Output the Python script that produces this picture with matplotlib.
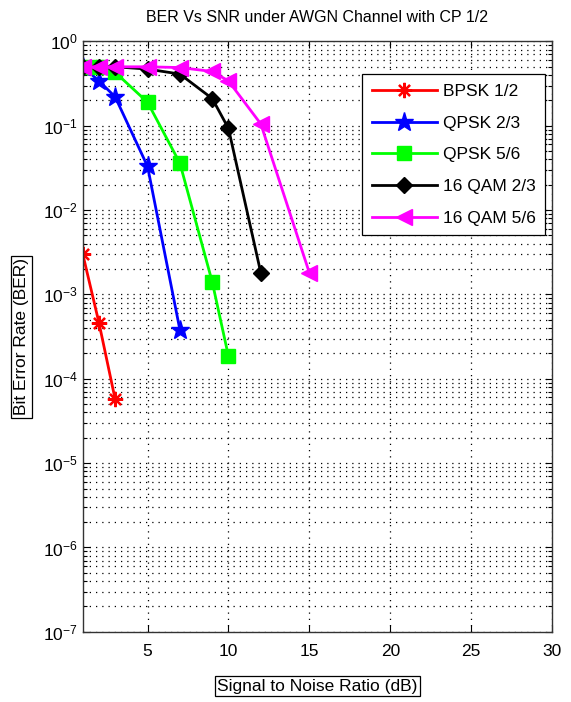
import matplotlib
matplotlib.use("Agg")
import matplotlib.pyplot as plt
from matplotlib.ticker import LogLocator, FixedLocator, NullFormatter

plt.rcParams["font.family"] = ["Liberation Sans", "DejaVu Sans"]
plt.rcParams["mathtext.default"] = "regular"

# series
bpsk_12_snr = [1, 2, 3]
bpsk_12_ber = [3.0e-3, 4.6e-4, 5.7e-5]

qpsk_23_snr = [1, 2, 3, 5, 7]
qpsk_23_ber = [0.5, 0.34, 0.22, 0.033, 3.8e-4]

qpsk_56_snr = [1, 2, 3, 5, 7, 9, 10]
qpsk_56_ber = [0.5, 0.5, 0.43, 0.19, 0.036, 1.4e-3, 1.85e-4]

qam16_23_snr = [1, 2, 3, 5, 7, 9, 10, 12]
qam16_23_ber = [0.5, 0.5, 0.5, 0.47, 0.41, 0.21, 0.093, 1.8e-3]

qam16_56_snr = [1, 2, 3, 5, 7, 9, 10, 12, 15]
qam16_56_ber = [0.5, 0.5, 0.5, 0.5, 0.49, 0.44, 0.34, 0.105, 1.8e-3]

x_ticks = [5, 10, 15, 20, 25, 30]
y_ticks = [1e-7, 1e-6, 1e-5, 1e-4, 1e-3, 1e-2, 1e-1, 1e0]

SERIES = [
    (bpsk_12_snr, bpsk_12_ber, "BPSK 1/2", "#ff0000", (8, 2, 0), 11),
    (qpsk_23_snr, qpsk_23_ber, "QPSK 2/3", "#0000ff", "*", 14),
    (qpsk_56_snr, qpsk_56_ber, "QPSK 5/6", "#00ff00", "s", 10),
    (qam16_23_snr, qam16_23_ber, "16 QAM 2/3", "#000000", "D", 8.5),
    (qam16_56_snr, qam16_56_ber, "16 QAM 5/6", "#ff00ff", "<", 12),
]

fig = plt.figure(figsize=(5.71, 7.02), dpi=100)
ax = fig.add_axes([0.145, 0.1, 0.822, 0.841])

for snr, ber, label, color, marker, ms in SERIES:
    ew = 1.6 if label == "BPSK 1/2" else 1
    ax.semilogy(snr, ber, color=color, marker=marker, markersize=ms,
                lw=2, label=label, markeredgecolor=color,
                markerfacecolor=color, markeredgewidth=ew)

ax.set_xlim(1, 30)
ax.set_ylim(y_ticks[0], y_ticks[-1])
ax.xaxis.set_major_locator(FixedLocator(x_ticks))
ax.yaxis.set_major_locator(FixedLocator(y_ticks))
ax.yaxis.set_minor_locator(LogLocator(base=10, subs=range(2, 10), numticks=12))
ax.yaxis.set_minor_formatter(NullFormatter())
ax.tick_params(direction="in", which="both", top=True, right=True,
               labelsize=12.5, width=0.8)
ax.tick_params(which="major", length=5)
ax.tick_params(which="minor", length=3)
ax.tick_params(axis="x", pad=9)

ax.grid(True, which="major", axis="both", ls=(0, (1, 4)), color="k", lw=0.9)
ax.grid(True, which="minor", axis="y", ls=(0, (1, 4)), color="k", lw=0.9)
for s in ax.spines.values():
    s.set_linewidth(1.0)
    s.set_color("#333333")

box = dict(boxstyle="square,pad=0.15", fc="white", ec="k", lw=0.9)
ax.set_title("BER Vs SNR under AWGN Channel with CP 1/2", fontsize=11.5, pad=14)
ax.set_xlabel("Signal to Noise Ratio (dB)", fontsize=12.5, bbox=box, labelpad=14)
ax.set_ylabel("Bit Error Rate (BER)", fontsize=12.5, bbox=box, labelpad=10)

leg = ax.legend(loc="upper right", bbox_to_anchor=(0.985, 0.944), fontsize=12.5,
                handlelength=3.8, fancybox=False, framealpha=1,
                edgecolor="k", borderpad=0.55, labelspacing=0.95,
                handletextpad=0.3, borderaxespad=0)
leg.get_frame().set_linewidth(0.9)

fig.savefig("out.png", dpi=100)
